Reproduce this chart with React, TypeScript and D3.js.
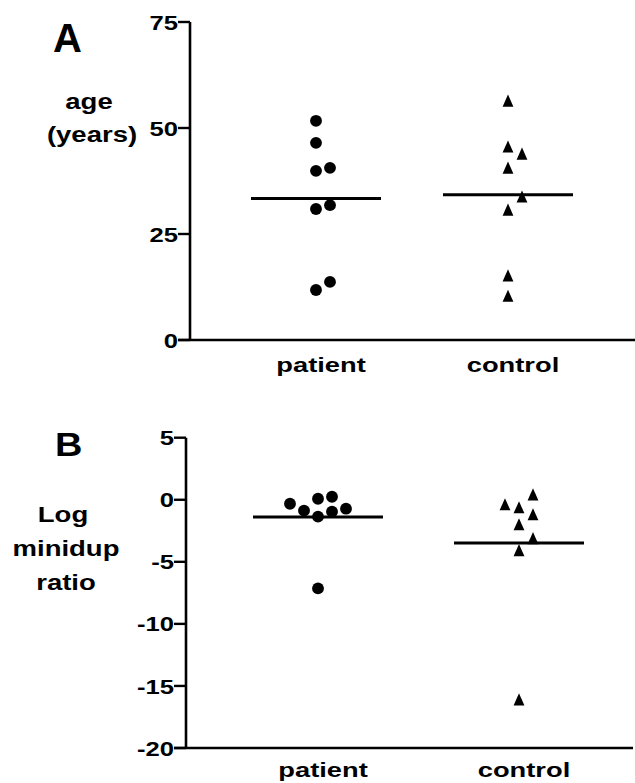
import React from "react";
import * as d3 from "d3";

// ---- data ----
const categories = ["patient", "control"];
const agePatient = [51.7, 46.5, 40.6, 39.9, 31.8, 30.9, 13.7, 11.8];
const ageControl = [56.1, 45.3, 43.6, 40.3, 33.5, 30.4, 14.9, 10.1];
const ageTicks = [0, 25, 50, 75];
const ratioPatient = [0.24, 0.08, -0.32, -0.72, -0.88, -0.96, -1.36, -7.14];
const ratioControl = [0.32, -0.48, -0.72, -1.28, -2.09, -3.21, -4.17, -16.2];
const ratioTicks = [5, 0, -5, -10, -15, -20];

const FONT = "'Liberation Sans', Arial, Helvetica, sans-serif";

// arrange points side by side when they would overlap (column scatter)
function arrange(values: number[], y: (v: number) => number, step: number, minDist: number) {
  const order = d3.range(values.length).sort((a, b) => values[a] - values[b]);
  const placed: { x: number; y: number }[] = [];
  const offs: number[] = new Array(values.length).fill(0);
  const candidates = [0, 1, -1, 2, -2, 3, -3];
  for (const i of order) {
    const py = y(values[i]);
    for (const c of candidates) {
      const px = c * step;
      if (placed.every((p) => Math.hypot(p.x - px, p.y - py) >= minDist)) {
        offs[i] = px;
        placed.push({ x: px, y: py });
        break;
      }
    }
  }
  return offs;
}

const triangleType = {
  draw(ctx: any, size: number) {
    const w = Math.sqrt(size) * 0.95;
    const h = w * 1.12;
    ctx.moveTo(0, -h * 0.62);
    ctx.lineTo(w / 2, h * 0.38);
    ctx.lineTo(-w / 2, h * 0.38);
    ctx.closePath();
  },
};

type PanelProps = {
  letter: string;
  letterX: number;
  letterY: number;
  letterSize: number;
  letterScale: number;
  titleLines: { text: string; x: number; y: number }[];
  domain: [number, number];
  axisX: number;
  axisRight: number;
  yBottom: number;
  yTop: number;
  ticks: number[];
  xRange: [number, number];
  patient: number[];
  control: number[];
  labelY: number;
};

function Panel(p: PanelProps) {
  const y = d3.scaleLinear().domain(p.domain).range([p.yBottom, p.yTop]);
  const x = d3.scalePoint<string>().domain(categories).range(p.xRange);
  const step = 14;
  const minDist = 14;
  const series = [
    { cat: "patient", vals: p.patient, shape: d3.symbolCircle, size: 110 },
    { cat: "control", vals: p.control, shape: triangleType, size: 130 },
  ];
  const tickLen = 12;
  const sym = (shape: any, size: number) => d3.symbol().type(shape).size(size)() as string;
  return (
    <g fontFamily={FONT} fontWeight="bold" fill="#000">
      <text
        transform={`translate(${p.letterX},${p.letterY}) scale(${p.letterScale},1)`}
        fontSize={p.letterSize}
      >
        {p.letter}
      </text>
      {p.titleLines.map((t, i) => (
        <text
          key={i}
          transform={`translate(${t.x},${t.y}) scale(1.25,1)`}
          textAnchor="middle"
          fontSize={22}
        >
          {t.text}
        </text>
      ))}
      {/* axes */}
      <line x1={p.axisX} x2={p.axisX} y1={p.yTop} y2={p.yBottom} stroke="#000" strokeWidth={2.6} />
      <line
        x1={p.axisX - tickLen}
        x2={p.axisRight}
        y1={p.yBottom}
        y2={p.yBottom}
        stroke="#000"
        strokeWidth={2.6}
      />
      {p.ticks.map((t) => (
        <g key={t}>
          <line
            x1={p.axisX - tickLen}
            x2={p.axisX}
            y1={y(t)}
            y2={y(t)}
            stroke="#000"
            strokeWidth={2.4}
          />
          <text
            transform={`translate(${p.axisX - tickLen},${y(t)}) scale(1.22,1)`}
            textAnchor="end"
            dy="0.36em"
            fontSize={21}
          >
            {t}
          </text>
        </g>
      ))}
      {categories.map((c) => (
        <text
          key={c}
          transform={`translate(${(x(c) as number) + 5},${p.labelY}) scale(1.3,1)`}
          textAnchor="middle"
          fontSize={21}
        >
          {c}
        </text>
      ))}
      {series.map((s) => {
        const offs = arrange(s.vals, y, step, minDist);
        const cx = x(s.cat) as number;
        const m = d3.mean(s.vals) as number;
        return (
          <g key={s.cat}>
            <line x1={cx - 65} x2={cx + 65} y1={y(m)} y2={y(m)} stroke="#000" strokeWidth={3} />
            {s.vals.map((v, i) => (
              <path
                key={i}
                d={sym(s.shape, s.size)}
                transform={`translate(${cx + offs[i]},${y(v)})`}
                fill="#000"
              />
            ))}
          </g>
        );
      })}
    </g>
  );
}

export default function App() {
  return (
    <svg
      width={635}
      height={783}
      style={{ position: "absolute", left: 0, top: 0, background: "#fff" }}
    >
      <rect width={635} height={783} fill="#fff" />
      <Panel
        letter="A"
        letterX={53}
        letterY={52}
        letterSize={40}
        letterScale={1}
        titleLines={[
          { text: "age", x: 89, y: 109 },
          { text: "(years)", x: 92, y: 142 },
        ]}
        domain={[0, 75]}
        axisX={190}
        axisRight={635}
        yBottom={340}
        yTop={22}
        ticks={ageTicks}
        xRange={[316, 508]}
        patient={agePatient}
        control={ageControl}
        labelY={372}
      />
      <Panel
        letter="B"
        letterX={55}
        letterY={456}
        letterSize={33}
        letterScale={1.15}
        titleLines={[
          { text: "Log", x: 63, y: 522 },
          { text: "minidup", x: 66, y: 556 },
          { text: "ratio", x: 66, y: 590 },
        ]}
        domain={[-20, 5]}
        axisX={186}
        axisRight={633}
        yBottom={748}
        yTop={437.7}
        ticks={ratioTicks}
        xRange={[318, 519]}
        patient={ratioPatient}
        control={ratioControl}
        labelY={777}
      />
    </svg>
  );
}
